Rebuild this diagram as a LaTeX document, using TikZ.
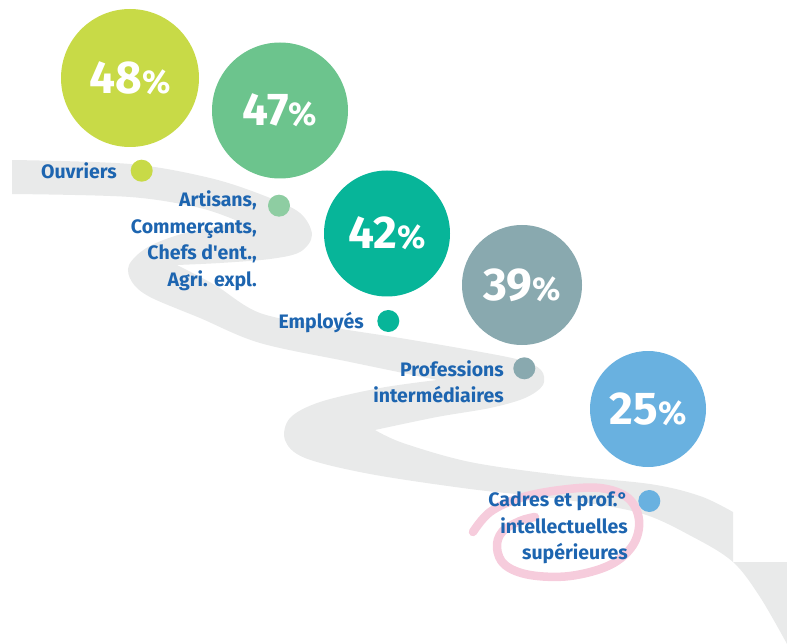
\documentclass[tikz,border=0pt]{standalone}
\usepackage{fontspec}
\setmainfont{Fira Sans}
\definecolor{road}{RGB}{233,234,234}
\definecolor{tblue}{RGB}{29,101,176}
\definecolor{cA}{RGB}{200,218,71}
\definecolor{cB}{RGB}{108,196,141}
\definecolor{cBl}{RGB}{142,205,162}
\definecolor{cC}{RGB}{7,181,153}
\definecolor{cD}{RGB}{137,169,175}
\definecolor{cE}{RGB}{105,177,224}
\definecolor{pinkloop}{RGB}{246,204,220}
\newcommand\lblfont{\fontsize{19.5}{26.5}\selectfont\bfseries}
\newcommand\pctval[1]{\bfseries{\fontsize{46}{46}\selectfont #1}{\fontsize{33}{33}\selectfont\%}}
\begin{document}
\begin{tikzpicture}[x=1pt,y=-1pt,
  bigc/.style={circle, inner sep=0pt, minimum size=#1, text=white},
  dotc/.style={circle, inner sep=0pt, minimum size=22pt},
  lbl/.style={anchor=base east, inner sep=0pt, text=tblue, font=\lblfont}]
\useasboundingbox (0,0) rectangle (787,644);
% road
\fill[road] plot[smooth, tension=0.55] coordinates {(12,160) (130,164) (210,178) (265,196) (300,213) (312,235) (300,252) (270,259) (220,263) (177,265)}
 -- plot[smooth, tension=0.55] coordinates {(177,265) (215,285) (260,313) (330,327) (400,338) (470,350) (520,360) (541,370) (543,385) (525,398) (490,408) (437,417) (375,430)}
 -- plot[smooth, tension=0.55] coordinates {(375,430) (403,443) (470,462) (560,475) (650,484) (700,496) (733,512)}
 -- (733,562) -- (787,562) -- (787,644)
 -- plot[smooth, tension=0.55] coordinates {(787,644) (760,597) (733,562) (693,537) (640,513) (560,499) (470,489) (370,474) (305,458) (285,440) (290,418) (320,402) (380,388) (437,380)}
 -- plot[smooth, tension=0.55] coordinates {(437,380) (350,362) (260,343) (200,318) (150,297) (132,282) (129,265) (148,247) (185,233) (240,222)}
 -- plot[smooth, tension=0.55] coordinates {(240,222) (200,208) (130,197) (12,194)}
 -- cycle;
% pink loop
\draw[pinkloop, line width=8.5pt, line cap=round] plot[smooth, tension=0.6] coordinates {(473,532) (490,512) (520,498) (560,490) (600,488) (628,498) (639,520) (633,545) (610,565) (570,576) (530,575) (505,565) (497,548) (502,532) (520,521) (535,517)};
% big circles
\node[bigc=138pt, fill=cA] (c48) at (130,78) {\pctval{48}};
\node[bigc=136pt, fill=cB] (c47) at (280,110.5) {\pctval{47}};
\node[bigc=126pt, fill=cC] (c42) at (387,233.5) {\pctval{42}};
\node[bigc=120pt, fill=cD] (c39) at (522,285) {\pctval{39}};
\node[bigc=116pt, fill=cE] (c25) at (648,409) {\pctval{25}};
% dots
\node[dotc, fill=cA] (dOuv) at (141.7,170.7) {};
\node[dotc, fill=cBl] (dArt) at (279,205.7) {};
\node[dotc, fill=cC] (dEmp) at (388.3,321) {};
\node[dotc, fill=cD] (dPro) at (524.3,368.3) {};
\node[dotc, fill=cE] (dCad) at (649.3,501) {};
% labels
\node[lbl] (lOuv) at (117,179) {Ouvriers};
\node[lbl] (lArt) at (257,206.7) {\begin{tabular}[t]{@{}r@{}}Artisans,\\Commerçants,\\Chefs d\textquotesingle ent.,\\Agri. expl.\end{tabular}};
\node[lbl] (lEmp) at (364,328) {Employés};
\node[lbl] (lPro) at (504,376) {\begin{tabular}[t]{@{}r@{}}Professions\\intermédiaires\end{tabular}};
\node[lbl] (lCad) at (628,506.7) {\begin{tabular}[t]{@{}r@{}}Cadres et prof.°\\intellectuelles\\supérieures\end{tabular}};
\end{tikzpicture}
\end{document}
